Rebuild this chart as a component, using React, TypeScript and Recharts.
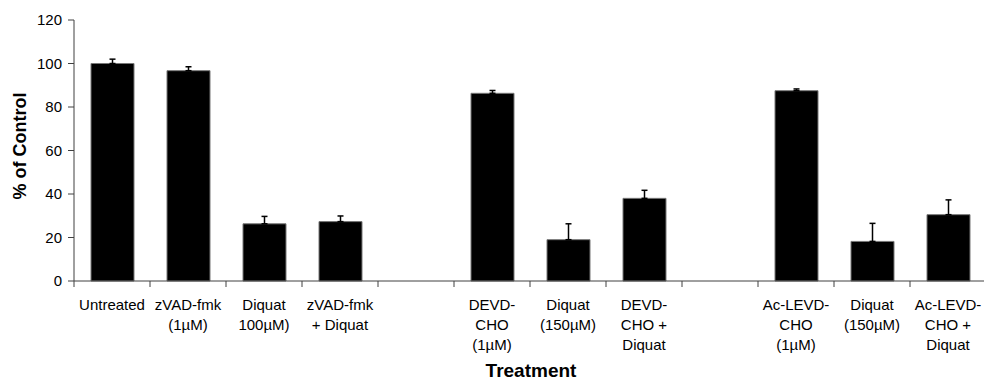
import { BarChart, Bar, XAxis, YAxis, ErrorBar } from "recharts";

const categories = [
  "Untreated",
  "zVAD-fmk\n(1µM)",
  "Diquat\n100µM)",
  "zVAD-fmk\n+ Diquat",
  "",
  "DEVD-\nCHO\n(1µM)",
  "Diquat\n(150µM)",
  "DEVD-\nCHO +\nDiquat",
  "",
  "Ac-LEVD-\nCHO\n(1µM)",
  "Diquat\n(150µM)",
  "Ac-LEVD-\nCHO +\nDiquat",
];
const values = [100, 96.7, 26.3, 27.3, null, 86.3, 19, 38, null, 87.5, 18.2, 30.5];
const errors = [2, 1.8, 3.4, 2.6, null, 1.3, 7.3, 3.7, null, 0.8, 8.3, 6.8];
const yTicks = [0, 20, 40, 60, 80, 100, 120];

const data = categories.map((label, i) => ({
  label,
  value: values[i],
  err: errors[i] == null ? null : [0, errors[i]],
}));

const FONT = "Arial, 'Liberation Sans', sans-serif";
const TICK_SIZE = 6;
const TICK_MARGIN = 12;

function SlotTick(props: any) {
  const { x, y, payload } = props;
  const half = payload && payload.offset ? payload.offset : 38;
  const lines = String(payload.value).split("\n");
  const axisY = y - TICK_SIZE - TICK_MARGIN;
  return (
    <g>
      <line x1={x - half} x2={x - half} y1={axisY} y2={axisY + TICK_SIZE} stroke="#404040" />
      <text x={x} y={y} textAnchor="middle" fontSize={15} fill="#000" fontFamily={FONT}>
        {lines.map((l, i) => (
          <tspan key={i} x={x} dy={i === 0 ? "0.71em" : 20}>
            {l}
          </tspan>
        ))}
      </text>
    </g>
  );
}

export default function App() {
  return (
    <div style={{ position: "absolute", left: 0, top: 0, width: 984, height: 381, overflow: "hidden", background: "#fff" }}>
      <BarChart width={1000} height={381} data={data} margin={{ top: 20, right: 14, bottom: 0, left: 0 }} barSize={43}>
        <XAxis
          dataKey="label"
          interval={0}
          height={100}
          tickLine={false}
          tickSize={TICK_SIZE}
          tickMargin={TICK_MARGIN}
          stroke="#404040"
          tick={<SlotTick />}
          label={{
            content: () => (
              <text x={531} y={377} textAnchor="middle" fontSize={19} fontWeight="bold" fill="#000" fontFamily={FONT}>
                Treatment
              </text>
            ),
          }}
        />
        <YAxis
          width={74}
          domain={[0, 120]}
          ticks={yTicks}
          tickSize={6}
          tickMargin={6}
          stroke="#404040"
          tick={{ fill: "#000", fontSize: 15, fontFamily: FONT }}
          label={{
            content: () => (
              <text
                x={26}
                y={146}
                transform="rotate(-90 26 146)"
                textAnchor="middle"
                fontSize={18}
                fontWeight="bold"
                fill="#000"
                fontFamily={FONT}
              >
                % of Control
              </text>
            ),
          }}
        />
        <Bar dataKey="value" fill="#000" stroke="#777" strokeWidth={1} isAnimationActive={false}>
          <ErrorBar dataKey="err" direction="y" width={3} stroke="#000" strokeWidth={1.5} />
        </Bar>
      </BarChart>
    </div>
  );
}
